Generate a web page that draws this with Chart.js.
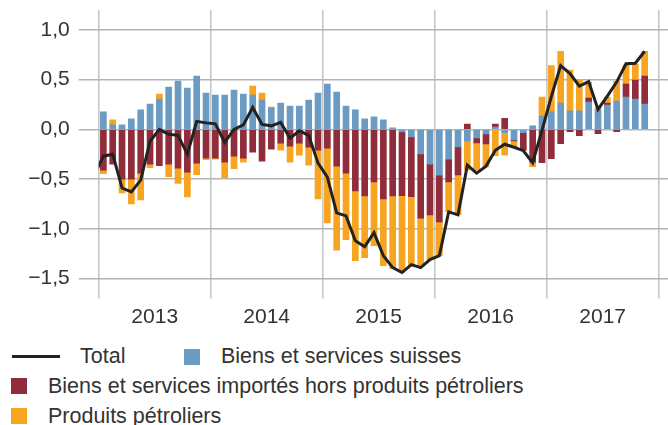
<!DOCTYPE html>
<html>
<head>
<meta charset="utf-8">
<script src="https://cdn.jsdelivr.net/npm/chart.js@4/dist/chart.umd.min.js"></script>
<style>
  html, body { margin: 0; padding: 0; background: #fff; }
  #wrap { position: relative; width: 668px; height: 425px; overflow: hidden; background: #fff; }
  #c { position: absolute; left: 0; top: 0; }
  .lg { position: absolute; font-family: "Liberation Sans", Arial, sans-serif; font-size: 21.5px; line-height: 21.5px; color: #333; white-space: nowrap; }
  .sq { position: absolute; width: 16px; height: 16px; }
  .ln { position: absolute; height: 3px; background: #222; }
</style>
</head>
<body>
<div id="wrap">
  <canvas id="c" width="668" height="340"></canvas>
  <div class="ln" style="left:12px; top:355px; width:48px;"></div>
  <div class="lg" style="left:80px; top:346px;" id="l0"></div>
  <div class="sq" style="left:184px; top:349px; background:#6b9bc3;"></div>
  <div class="lg" style="left:221px; top:346px;" id="l1"></div>
  <div class="sq" style="left:11px; top:378px; background:#912d3b;"></div>
  <div class="lg" style="left:48px; top:376px;" id="l2"></div>
  <div class="sq" style="left:11px; top:408px; background:#f7a520;"></div>
  <div class="lg" style="left:48px; top:406px;" id="l3"></div>
</div>
<script>
// Months: Dec 2012 (line only) to Nov 2017
const months = [];
for (let y = 2012, m = 12; !(y === 2017 && m === 12); ) {
  months.push(y + '-' + String(m).padStart(2, '0'));
  m++; if (m > 12) { m = 1; y++; }
}
const yearLabels = ['2013', '2014', '2015', '2016', '2017'];
const yTicks = [-1.5, -1.0, -0.5, 0, 0.5, 1.0];
const seriesNames = ['Total', 'Biens et services suisses', 'Biens et services importés hors produits pétroliers', 'Produits pétroliers'];

// Total (Dec 2012 .. Nov 2017)
const total = [-0.46,
  -0.27, -0.25, -0.59, -0.63, -0.51, -0.12, 0.0, -0.05, -0.06, -0.25, 0.08, 0.065,
  0.055, -0.13, 0.0, 0.045, 0.22, 0.05, 0.035, 0.07, -0.09, -0.015, -0.06, -0.34,
  -0.48, -0.84, -0.87, -1.12, -1.18, -1.04, -1.27, -1.39, -1.44, -1.36, -1.39, -1.31,
  -1.27, -0.83, -0.86, -0.36, -0.44, -0.37, -0.21, -0.15, -0.18, -0.215, -0.335, -0.01,
  0.33, 0.64, 0.56, 0.435, 0.48, 0.20, 0.335, 0.475, 0.66, 0.665, 0.785];

// Bars (Jan 2013 .. Nov 2017); first entry null for Dec 2012
const swiss = [null,
  0.175, 0.045, 0.045, 0.105, 0.195, 0.255, 0.305, 0.425, 0.485, 0.415, 0.535, 0.365,
  0.345, 0.345, 0.395, 0.355, 0.345, 0.295, 0.215, 0.265, 0.235, 0.235, 0.295, 0.365,
  0.455, 0.375, 0.235, 0.195, 0.105, 0.125, 0.095, 0.015, -0.027, -0.077, -0.248, -0.35,
  -0.46, -0.30, -0.178, -0.117, -0.087, -0.047, 0.023, -0.034, -0.107, -0.034, 0.034, 0.134,
  0.175, 0.265, 0.185, 0.185, 0.275, 0.195, 0.245, 0.285, 0.325, 0.305, 0.255];
const imported = [null,
  -0.41, -0.35, -0.50, -0.50, -0.44, -0.35, -0.365, -0.35, -0.39, -0.43, -0.34, -0.29,
  -0.29, -0.33, -0.27, -0.29, -0.23, -0.32, -0.20, -0.14, -0.17, -0.14, -0.18, -0.21,
  -0.19, -0.37, -0.44, -0.62, -0.67, -0.53, -0.70, -0.67, -0.64, -0.60, -0.645, -0.51,
  -0.47, -0.23, -0.28, 0.054, -0.05, -0.10, 0.03, 0.11, -0.01, -0.175, -0.33, -0.335,
  -0.295, -0.145, -0.023, -0.064, 0.04, -0.044, 0.02, -0.023, 0.13, 0.19, 0.28];
const oil = [null,
  -0.035, 0.05, -0.14, -0.25, -0.27, -0.035, 0.05, -0.125, -0.155, -0.25, -0.115, -0.015,
  -0.01, -0.155, -0.125, -0.04, 0.09, 0.07, 0.01, -0.07, -0.16, -0.12, -0.18, -0.49,
  -0.75, -0.845, -0.67, -0.70, -0.62, -0.64, -0.67, -0.73, -0.77, -0.70, -0.48, -0.45,
  -0.34, -0.30, -0.40, -0.29, -0.27, -0.23, -0.265, -0.225, -0.06, 0, -0.045, 0.19,
  0.465, 0.52, 0.41, 0.31, 0.16, 0.02, 0.06, 0.20, 0.19, 0.16, 0.25];

const colors = { total: '#222222', swiss: '#6b9bc3', imported: '#912d3b', oil: '#f7a520' };

document.getElementById('l0').textContent = seriesNames[0];
document.getElementById('l1').textContent = seriesNames[1];
document.getElementById('l2').textContent = seriesNames[2];
document.getElementById('l3').textContent = seriesNames[3];

function monthPos(label) {
  const [y, m] = label.split('-').map(Number);
  return (y - 2013) * 12 + (m - 1) + 0.5;
}
function pts(arr) {
  const out = [];
  arr.forEach((v, i) => { if (v !== null) out.push({ x: monthPos(months[i]), y: v }); });
  return out;
}

const FONT = { family: '"Liberation Sans", Arial, sans-serif', size: 21 };

new Chart(document.getElementById('c'), {
  data: {
    datasets: [
      { type: 'line', label: seriesNames[0], data: pts(total), borderColor: colors.total, borderWidth: 3,
        pointRadius: 0, tension: 0, stack: 'line', clip: 0, order: 0, borderJoinStyle: 'miter' },
      { type: 'bar', label: seriesNames[1], data: pts(swiss), backgroundColor: colors.swiss, stack: 'bars', barThickness: 6, order: 1 },
      { type: 'bar', label: seriesNames[2], data: pts(imported), backgroundColor: colors.imported, stack: 'bars', barThickness: 6, order: 1 },
      { type: 'bar', label: seriesNames[3], data: pts(oil), backgroundColor: colors.oil, stack: 'bars', barThickness: 6, order: 1 }
    ]
  },
  options: {
    responsive: false,
    animation: false,
    events: [],
    layout: { padding: { top: 10, right: 0, left: 0, bottom: 0 } },
    plugins: { legend: { display: false }, tooltip: { enabled: false } },
    scales: {
      x: {
        type: 'linear', min: 0, max: 61, stacked: true, offset: false,
        border: { display: false },
        grid: {
          offset: false,
          color: (ctx) => (ctx.tick && ctx.tick.value % 12 === 0) ? '#c6c6c6' : 'rgba(0,0,0,0)',
          lineWidth: 1.6, tickLength: 20, drawOnChartArea: true
        },
        afterBuildTicks: (s) => { s.ticks = [0, 6, 12, 18, 24, 30, 36, 42, 48, 54, 60].map(v => ({ value: v })); },
        ticks: {
          autoSkip: false, maxRotation: 0, padding: 6, color: '#333', font: FONT,
          callback: (v) => (v % 12 === 6) ? yearLabels[(v - 6) / 12] : ''
        },
        afterFit: (s) => { s.height = 61.5; s.paddingLeft = 0; s.paddingRight = 0; }
      },
      y: {
        min: -1.5, max: 1.2, stacked: true,
        border: { display: false },
        grid: { color: '#b4b4b4', lineWidth: 1.5, tickLength: 20 },
        afterBuildTicks: (s) => { s.ticks = yTicks.map(v => ({ value: v })); },
        ticks: {
          padding: 9, color: '#333', font: FONT,
          callback: (v) => (v < 0 ? '\u2212' : '') + Math.abs(v).toFixed(1).replace('.', ',')
        },
        afterFit: (s) => { s.width = 98.7; s.paddingTop = 0; s.paddingBottom = 0; }
      }
    }
  }
});
</script>
</body>
</html>
